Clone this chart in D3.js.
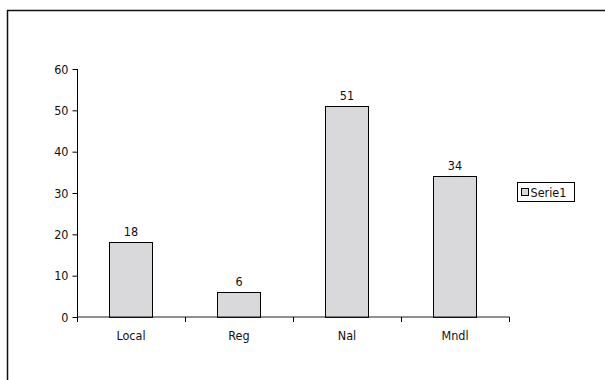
<!DOCTYPE html>
<html>
<head>
<meta charset="utf-8">
<script src="https://cdn.jsdelivr.net/npm/d3@7"></script>
<style>
  html, body { margin: 0; padding: 0; background: #fff; }
  svg { display: block; }
  text { font-family: "DejaVu Sans Condensed", "DejaVu Sans", sans-serif; font-size: 12.5px; fill: #111; }
</style>
</head>
<body>
<svg id="chart" width="605" height="380"></svg>
<script>
// Category labels and values
const categories = ["Local", "Reg", "Nal", "Mndl"];
const values = [18, 6, 51, 34];
const seriesName = "Serie1";
const yTicks = [0, 10, 20, 30, 40, 50, 60];

const FONT = "DejaVu Sans Condensed, DejaVu Sans, sans-serif";
const svg = d3.select("#chart");

// Outer chart frame (open on right and bottom edges of the window)
svg.append("path")
  .attr("d", "M7.5,380 L7.5,10.5 L605,10.5")
  .attr("fill", "none")
  .attr("stroke", "#111")
  .attr("stroke-width", 1.5);

const plot = { left: 77, right: 509, top: 68.5, bottom: 316.5 };

const x = d3.scaleBand()
  .domain(categories)
  .range([plot.left, plot.right])
  .paddingInner(0.6)
  .paddingOuter(0.3);

const xTickScale = d3.scaleBand().domain(categories).range([plot.left, plot.right]);

const y = d3.scaleLinear().domain([0, 60]).range([plot.bottom, plot.top]);

// Bars
svg.append("g").selectAll("rect")
  .data(values)
  .join("rect")
  .attr("x", (d, i) => Math.round(x(categories[i])) + 0.5)
  .attr("y", d => Math.round(y(d)) + 0.5)
  .attr("width", Math.round(x.bandwidth()))
  .attr("height", d => Math.round(y(0)) - Math.round(y(d)))
  .attr("fill", "#d9d9db")
  .attr("stroke", "#000")
  .attr("stroke-width", 1);

// Value labels
svg.append("g").selectAll("text")
  .data(values)
  .join("text")
  .attr("x", (d, i) => x(categories[i]) + x.bandwidth() / 2)
  .attr("y", d => y(d) - 6)
  .attr("text-anchor", "middle")
  .text(d => d);

// Y axis
const yAxis = d3.axisLeft(y).tickValues(yTicks).tickSize(5).tickPadding(4);
const gy = svg.append("g")
  .attr("transform", `translate(${plot.left + 0.5},0.5)`)
  .call(yAxis)
  .attr("font-family", FONT)
  .attr("font-size", 12.5);
gy.select(".domain").attr("d", `M0,${plot.top}V${plot.bottom}`).attr("stroke", "#000");
gy.selectAll("line").attr("stroke", "#000");
gy.selectAll("text").attr("fill", "#111");

// X axis with ticks between categories
const gx = svg.append("g").attr("transform", `translate(0,${plot.bottom + 0.5})`);
gx.append("line")
  .attr("x1", plot.left).attr("x2", plot.right + 0.5)
  .attr("stroke", "#222");
const boundaries = categories.map(c => xTickScale(c)).concat([plot.right]);
gx.selectAll("line.tick")
  .data(boundaries)
  .join("line")
  .attr("class", "tick")
  .attr("x1", d => Math.round(d) + 0.5).attr("x2", d => Math.round(d) + 0.5)
  .attr("y1", 0).attr("y2", 5)
  .attr("stroke", "#000");
gx.selectAll("text")
  .data(categories)
  .join("text")
  .attr("x", d => xTickScale(d) + xTickScale.bandwidth() / 2)
  .attr("y", 23)
  .attr("text-anchor", "middle")
  .text(d => d);

// Legend
const legend = svg.append("g").attr("transform", "translate(517.5,182.5)");
legend.append("rect")
  .attr("width", 57).attr("height", 19)
  .attr("fill", "#fff").attr("stroke", "#000");
legend.append("rect")
  .attr("x", 4).attr("y", 6).attr("width", 7).attr("height", 7)
  .attr("fill", "#d9d9db").attr("stroke", "#000");
legend.append("text")
  .attr("x", 13).attr("y", 14)
  .text(seriesName);
</script>
</body>
</html>
